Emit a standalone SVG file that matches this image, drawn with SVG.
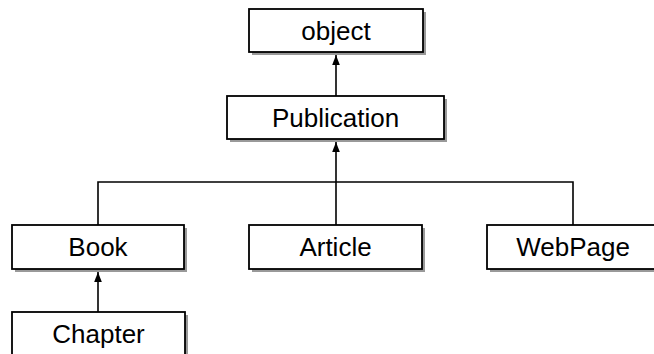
<svg xmlns="http://www.w3.org/2000/svg" width="654" height="354" viewBox="0 0 654 354">
<style>
.shadow{fill:#999999;stroke:none}
.box{fill:#ffffff;stroke:#000000;stroke-width:1.8}
.lbl{font-family:"Liberation Sans",Arial,sans-serif;font-size:26px;fill:#000000;text-anchor:middle}
.edge{fill:none;stroke:#000000;stroke-width:1.6}
</style>
<defs>
<marker id="arr" viewBox="0 0 10 10" refX="10" refY="5" markerWidth="10" markerHeight="10" markerUnits="userSpaceOnUse" orient="auto">
<path d="M0,1.2 L10,5 L0,8.8 Z" fill="#000000"/>
</marker>
</defs>
<rect width="654" height="354" fill="#ffffff"/>
<g id="connectors">
<line class="edge" x1="336" y1="96" x2="336" y2="55" marker-end="url(#arr)"/>
<line class="edge" x1="336" y1="182" x2="336" y2="142" marker-end="url(#arr)"/>
<polyline class="edge" points="98,225 98,182 573,182 573,225"/>
<line class="edge" x1="336" y1="182" x2="336" y2="225"/>
<line class="edge" x1="98" y1="312" x2="98" y2="272" marker-end="url(#arr)"/>
</g>
<g id="object">
<rect class="shadow" x="252" y="12" width="174" height="43"/>
<rect class="box" x="249" y="9" width="174" height="43"/>
<text class="lbl" x="336" y="40">object</text>
</g>
<g id="publication">
<rect class="shadow" x="230" y="99" width="217" height="43"/>
<rect class="box" x="227" y="96" width="217" height="43"/>
<text class="lbl" x="335.5" y="127">Publication</text>
</g>
<g id="book">
<rect class="shadow" x="15" y="228" width="172" height="44"/>
<rect class="box" x="12" y="225" width="172" height="44"/>
<text class="lbl" x="98" y="256">Book</text>
</g>
<g id="article">
<rect class="shadow" x="252" y="228" width="173" height="44"/>
<rect class="box" x="249" y="225" width="173" height="44"/>
<text class="lbl" x="335.5" y="256">Article</text>
</g>
<g id="webpage">
<rect class="shadow" x="490" y="228" width="172" height="44"/>
<rect class="box" x="487" y="225" width="172" height="44"/>
<text class="lbl" x="573" y="256">WebPage</text>
</g>
<g id="chapter">
<rect class="shadow" x="15" y="315" width="173" height="44"/>
<rect class="box" x="12" y="312" width="173" height="44"/>
<text class="lbl" x="98.5" y="343">Chapter</text>
</g>
</svg>
